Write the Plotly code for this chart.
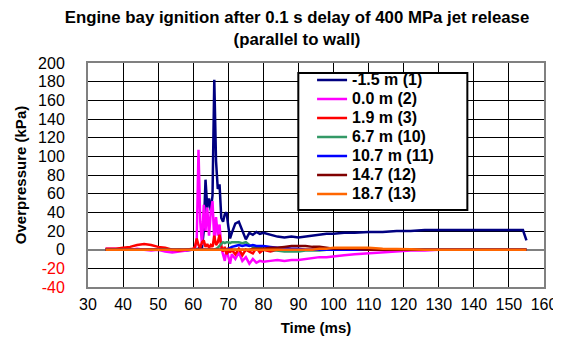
import plotly.graph_objects as go

time_ms = [35, 38, 40, 42, 44, 46, 48, 50, 52, 54, 56, 58, 60,
           60.5, 61, 61.5, 62, 62.5, 63, 63.5, 64, 64.5, 65, 65.5, 66, 66.5, 67, 67.5, 68, 68.5, 69, 69.5, 70, 70.5, 71,
           72, 73, 74, 75, 76, 77, 78, 79, 80,
           82, 84, 86, 88, 90, 92, 94, 96, 98, 100,
           103, 106, 110, 114, 118, 122, 126, 130,
           135, 140, 145, 150, 154, 155]

s1_m15 = [0, 0, 0, 0, 0, 0, 0, 0, 0, -1, 0, -1, 0,
          0, 0, 1, 3, 2, 20, 75, 45, 55, 42, 58, 182, 95, 65, 70, 34, 30, 38, 40, 25, 12, 18,
          28, 30, 20, 11, 18, 16, 19, 17, 18,
          16, 14, 13, 14, 13, 14, 15, 16, 17, 17,
          18, 18, 19, 19, 20, 20, 21, 21,
          21, 21, 21, 21, 21, 10]
s2_00 = [1, 1, 1, 0, 1, 0, -1, 0, -2, -3, -2, -1, 0,
         2, 10, 107, 30, 5, 48, 20, 45, 15, 40, 52, 10, 35, 15, 27, 2, -5, -12, 0, -8, -15, -5,
         -10, -3, -12, -8, -15, -10, -14, -12, -13,
         -12, -11, -12, -11, -11, -10, -9, -8, -8, -7,
         -6, -5, -4, -3, -2, -1, -1, 0,
         0, 0, 0, 0, 0, 0]
s3_19 = [1, 1, 2, 3, 5, 6, 5, 3, 2, 0, -1, 0, 1,
         3, 12, 5, 2, 8, 10, 3, 6, 2, 5, 3, 15, 5, 8, 16, 4, -2, 3, -5, 2, -3, 0,
         -5, 1, -6, 0, -2, -4, 2, -3, 0,
         -2, 0, -1, 0, 0, 0, 0, 0, 0, 0,
         0, 0, 0, 0, 0, 0, 0, 0,
         0, 0, 0, 0, 0, 0]
s10_67 = [0, 0, 0, 0, 0, 0, 0, 0, 0, 0, 0, 0, 0,
          0, 0, 0, 0, 0, 0, 0, 0, 0, 0, 0, 0, 1, 2, 4, 6, 8, 7, 8, 8, 7, 8,
          8, 8, 7, 8, 5, 3, 2, 2, 1,
          0, -1, -2, -2, -2, -1, -1, -1, 0, 0,
          0, 0, 0, 0, 0, 0, 0, 0,
          0, 0, 0, 0, 0, 0]
s11_107 = [0, 0, 0, 0, 0, 0, 0, 0, 0, 0, 0, 0, 0,
           0, 0, 0, 0, 0, 0, 0, 0, 0, 0, 0, 0, 0, 0, 0, 0, 0, 0, 0, 1, 2, 3,
           4, 5, 4, 5, 4, 5, 4, 4, 4,
           3, 2, 2, 1, 1, 0, 0, 0, 0, 0,
           0, 0, 0, 0, 0, 0, 0, 0,
           0, 0, 0, 0, 0, 0]
s12_147 = [0, 0, 0, 0, 0, 0, 0, 0, 0, 0, 0, 0, 0,
           0, 0, 0, 0, 0, 0, 0, 0, 0, 0, 0, 0, 0, 0, 0, 0, 0, 0, 0, 0, 0, 0,
           0, 0, 0, 0, 0, 1, 1, 1, 1,
           2, 2, 3, 4, 4, 4, 3, 3, 2, 1,
           1, 1, 0, 0, 0, 0, 0, 0,
           0, 0, 0, 0, 0, 0]
s13_187 = [0, 0, 0, 0, 0, 0, 0, 0, 0, 0, 0, 0, 0,
           0, 0, 0, 0, 0, 0, 0, 0, 0, 0, 0, 0, 0, 0, 0, 0, 0, 0, 0, 0, 0, 0,
           0, 0, 0, 0, 0, 0, 0, 0, 0,
           0, 0, 0, 0, 0, 0, 0, 1, 1, 2,
           2, 2, 2, 1, 1, 0.5, 0, 0,
           0, 0, 0, 0, 0, 0]

series_names = ["-1.5 m (1)", "0.0 m (2)", "1.9 m (3)", "6.7 m (10)", "10.7 m (11)", "14.7 (12)", "18.7 (13)"]
series_values = [s1_m15, s2_00, s3_19, s10_67, s11_107, s12_147, s13_187]
series_colors = ["#000080", "#FF00FF", "#FF0000", "#339966", "#0000FF", "#800000", "#FF6600"]

y_tick_vals = [-40, -20, 0, 20, 40, 60, 80, 100, 120, 140, 160, 180, 200]
x_tick_vals = [30, 40, 50, 60, 70, 80, 90, 100, 110, 120, 130, 140, 150, 160]

y_tick_text = [('<span style="color:#FF0000">%d</span>' % v) if v < 0 else str(v) for v in y_tick_vals]

FONT = "Arial, Liberation Sans, sans-serif"

fig = go.Figure()
for name, vals, col in zip(series_names, series_values, series_colors):
    fig.add_trace(go.Scatter(x=time_ms, y=vals, mode="lines",
                             name='<b><span style="font-size:16px">%s</span></b>' % name,
                             line=dict(color=col, width=2.5)))

fig.update_layout(
    width=561, height=347,
    margin=dict(l=78, r=19, t=55, b=68),
    paper_bgcolor="white", plot_bgcolor="white",
    font=dict(family=FONT, color="black"),
    title=dict(text="<b>Engine bay ignition after 0.1 s delay of 400 MPa jet release<br>(parallel to wall)</b>",
               x=289 / 561, xanchor="center", xref="container", y=1 - 15 / 347, yanchor="middle", yref="container",
               font=dict(size=16.8)),
    showlegend=True,
    legend=dict(x=(306 - 78) / 464, y=(279 - 57.5) / 224, xanchor="left", yanchor="top",
                bgcolor="rgba(0,0,0,0)", borderwidth=0,
                font=dict(size=12, family=FONT), traceorder="normal"),
    xaxis=dict(range=[30, 160], tickvals=x_tick_vals, showgrid=True, gridcolor="#000000", gridwidth=1,
               showline=True, linecolor="#808080", linewidth=2, mirror=True, zeroline=False,
               ticks="", ticklabelstandoff=2, tickfont=dict(size=16),
               title=dict(text="<b>Time (ms)</b>", font=dict(size=15), standoff=10)),
    yaxis=dict(range=[-40, 200], tickvals=y_tick_vals, ticktext=y_tick_text, showgrid=True,
               gridcolor="#000000", gridwidth=1,
               showline=True, linecolor="#808080", linewidth=2, mirror=True,
               zeroline=True, zerolinecolor="#808080", zerolinewidth=2,
               ticks="", ticklabelstandoff=18, tickfont=dict(size=16),
               title=dict(text="<b>Overpressure (kPa)</b>", font=dict(size=15), standoff=8)),
)

fig.add_shape(type="rect", xref="paper", yref="paper",
              x0=(292 - 78) / 464, x1=(464 - 78) / 464, y0=(279 - 202) / 224, y1=(279 - 65) / 224,
              line=dict(color="black", width=2), fillcolor="white", layer="above")

fig.write_html("out.html")
